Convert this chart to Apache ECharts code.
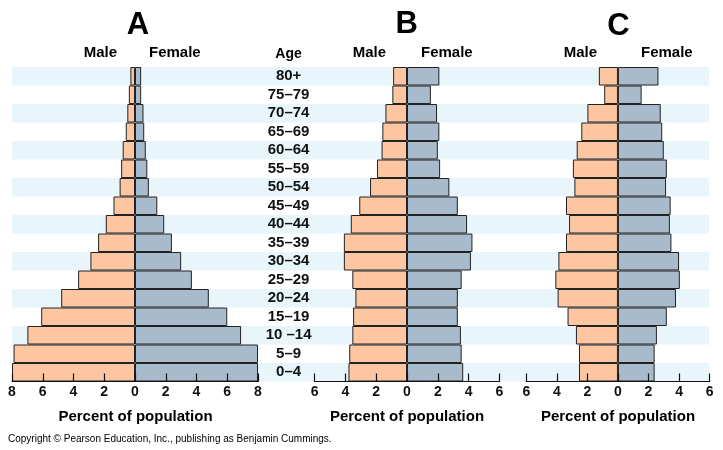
<!DOCTYPE html>
<html>
<head>
<meta charset="utf-8">
<script src="https://cdn.jsdelivr.net/npm/echarts@6/dist/echarts.min.js"></script>
<style>
html,body{margin:0;padding:0;background:#fff;}
#chart{width:723px;height:450px;}
</style>
</head>
<body>
<div id="chart"></div>
<script>
// Age groups, bottom to top
var ages = ['0–4','5–9','10 –14','15–19','20–24','25–29','30–34','35–39','40–44','45–49','50–54','55–59','60–64','65–69','70–74','75–79','80+'];

// Percent of population (bottom 0–4 to top 80+)
var maleA   = [8.0, 7.9, 7.0, 6.1, 4.8, 3.7, 2.9, 2.4, 1.9, 1.4, 1.0, 0.9, 0.8, 0.6, 0.5, 0.4, 0.3];
var femaleA = [8.0, 8.0, 6.9, 6.0, 4.8, 3.7, 3.0, 2.4, 1.9, 1.45, 0.9, 0.8, 0.7, 0.6, 0.55, 0.4, 0.4];

var maleB   = [3.8, 3.75, 3.55, 3.5, 3.35, 3.55, 4.1, 4.1, 3.65, 3.1, 2.4, 1.95, 1.65, 1.6, 1.4, 0.95, 0.9];
var femaleB = [3.65, 3.55, 3.5, 3.3, 3.3, 3.55, 4.15, 4.25, 3.9, 3.3, 2.75, 2.15, 2.0, 2.1, 1.95, 1.55, 2.1];

var maleC   = [2.55, 2.55, 2.75, 3.3, 3.95, 4.1, 3.9, 3.4, 3.2, 3.4, 2.85, 2.95, 2.7, 2.4, 2.0, 0.9, 1.25];
var femaleC = [2.4, 2.4, 2.55, 3.2, 3.8, 4.05, 4.0, 3.5, 3.4, 3.45, 3.15, 3.2, 3.0, 2.9, 2.8, 1.55, 2.65];

var ticksA = [-8, 8];
var ticksBC = [-6, 6];

var MALE = '#fdc6a1';
var FEMALE = '#a8bbcd';
var FONT = 'Liberation Sans, Arial, sans-serif';

var chart = echarts.init(document.getElementById('chart'), null, {renderer: 'canvas'});

var TOP = 67, H = 314.5;
var panels = [
  {left: 12, width: 246, range: ticksA, male: maleA, female: femaleA, showAge: false},
  {left: 314.6, width: 184.8, range: ticksBC, male: maleB, female: femaleB, showAge: true},
  {left: 526.3, width: 183.3, range: ticksBC, male: maleC, female: femaleC, showAge: false}
];

var grids = [{left: 12, top: TOP, width: 697, height: H}];
var xAxes = [{gridIndex: 0, type: 'value', show: false, min: 0, max: 1}];
var yAxes = [{
  gridIndex: 0, type: 'category', data: ages,
  axisLine: {show: false}, axisTick: {show: false}, axisLabel: {show: false, interval: 0},
  splitLine: {show: false},
  splitArea: {show: true, interval: 0, areaStyle: {color: ['#e8f5fb', '#ffffff']}}
}];
var series = [{type: 'bar', xAxisIndex: 0, yAxisIndex: 0, data: [], silent: true}];

panels.forEach(function (p, i) {
  var gi = i + 1;
  grids.push({left: p.left, top: TOP, width: p.width, height: H});
  xAxes.push({
    gridIndex: gi, type: 'value', min: p.range[0], max: p.range[1], interval: 2, z: 5,
    axisLine: {show: true, lineStyle: {color: '#111', width: 1.2}},
    axisTick: {show: true, inside: true, length: 8, lineStyle: {color: '#111', width: 1.2}},
    splitLine: {show: false},
    axisLabel: {
      formatter: function (v) { return Math.abs(v); },
      color: '#111', fontFamily: FONT, fontWeight: 'bold', fontSize: 14, margin: 4
    }
  });
  yAxes.push({
    gridIndex: gi, type: 'category', data: ages,
    axisLine: {show: false}, axisTick: {show: false}, splitLine: {show: false},
    axisLabel: p.showAge ? {
      show: true, interval: 0, align: 'center', margin: 26,
      color: '#111', fontFamily: FONT, fontWeight: 'bold', fontSize: 15
    } : {show: false}
  });
  series.push({
    name: 'Male', type: 'bar', xAxisIndex: gi, yAxisIndex: gi,
    barWidth: '100%', barGap: '-100%',
    data: p.male.map(function (v) { return -v; }),
    itemStyle: {color: MALE, borderColor: '#222', borderWidth: 1}
  });
  series.push({
    name: 'Female', type: 'bar', xAxisIndex: gi, yAxisIndex: gi,
    barWidth: '100%', barGap: '-100%',
    data: p.female.slice(),
    itemStyle: {color: FEMALE, borderColor: '#222', borderWidth: 1}
  });
});

function txt(x, y, s, size, align, weight) {
  return {
    type: 'text', x: x, y: y, silent: true,
    style: {
      text: s, fill: '#000', font: (weight || 'bold') + ' ' + size + 'px ' + FONT,
      textAlign: align || 'center', textVerticalAlign: 'middle'
    }
  };
}

var graphics = [
  txt(138, 25, 'A', 31), txt(406.7, 24, 'B', 31), txt(618.5, 26, 'C', 31),
  txt(117, 53, 'Male', 15, 'right'), txt(149, 53, 'Female', 15, 'left'),
  txt(386, 53, 'Male', 15, 'right'), txt(421, 53, 'Female', 15, 'left'),
  txt(597, 53, 'Male', 15, 'right'), txt(641, 53, 'Female', 15, 'left'),
  txt(288.5, 54, 'Age', 14),
  txt(135.5, 417, 'Percent of population', 15),
  txt(407, 417, 'Percent of population', 15),
  txt(618, 417, 'Percent of population', 15),
  txt(8, 439, 'Copyright © Pearson Education, Inc., publishing as Benjamin Cummings.', 10, 'left', 'normal')
];

chart.setOption({
  animation: false,
  backgroundColor: '#ffffff',
  grid: grids,
  xAxis: xAxes,
  yAxis: yAxes,
  series: series,
  graphic: graphics
});
</script>
</body>
</html>
